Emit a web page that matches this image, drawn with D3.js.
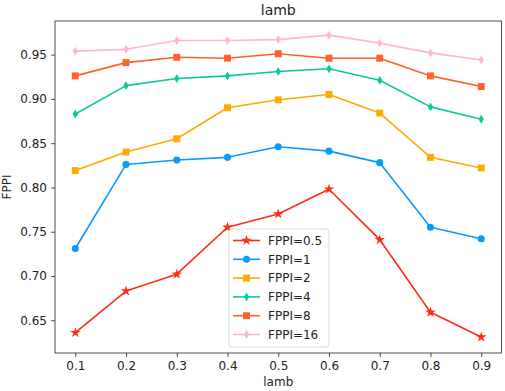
<!DOCTYPE html>
<html>
<head>
<meta charset="utf-8">
<script src="https://cdn.jsdelivr.net/npm/d3@7"></script>
<style>
  html, body { margin: 0; padding: 0; background: #fff; }
  svg { display: block; font-family: "DejaVu Sans", sans-serif; }
</style>
</head>
<body>
<div id="chart"></div>
<script>
// lamb values on the x axis
const lambs = [0.1, 0.2, 0.3, 0.4, 0.5, 0.6, 0.7, 0.8, 0.9]

// one list per FPPI setting
const fppi05 = [0.636, 0.683, 0.702, 0.755, 0.770, 0.798, 0.741, 0.659, 0.631]
const fppi1  = [0.731, 0.826, 0.831, 0.834, 0.846, 0.841, 0.828, 0.755, 0.742]
const fppi2  = [0.819, 0.840, 0.855, 0.890, 0.899, 0.905, 0.884, 0.834, 0.822]
const fppi4  = [0.883, 0.915, 0.923, 0.926, 0.931, 0.934, 0.921, 0.891, 0.877]
const fppi8  = [0.926, 0.941, 0.947, 0.946, 0.951, 0.946, 0.946, 0.926, 0.914]
const fppi16 = [0.954, 0.956, 0.966, 0.966, 0.967, 0.972, 0.963, 0.952, 0.944]

const seriesNames = ["FPPI=0.5", "FPPI=1", "FPPI=2", "FPPI=4", "FPPI=8", "FPPI=16"]
const xTicks = [0.1, 0.2, 0.3, 0.4, 0.5, 0.6, 0.7, 0.8, 0.9]
const yTicks = [0.65, 0.70, 0.75, 0.80, 0.85, 0.90, 0.95]

const series = [
  { name: seriesNames[0], values: fppi05, color: "#ff2d14", marker: "star" },
  { name: seriesNames[1], values: fppi1,  color: "#0a9bff", marker: "circle" },
  { name: seriesNames[2], values: fppi2,  color: "#ffaa00", marker: "square" },
  { name: seriesNames[3], values: fppi4,  color: "#0cc89e", marker: "thin_diamond" },
  { name: seriesNames[4], values: fppi8,  color: "#ff6128", marker: "square" },
  { name: seriesNames[5], values: fppi16, color: "#ffb8cc", marker: "thin_diamond" }
]

const W = 505, H = 391
const margin = { top: 21, right: 3.5, bottom: 38, left: 55 }

const svg = d3.select("#chart").append("svg")
  .attr("width", W).attr("height", H)

const x = d3.scaleLinear().domain([0.06, 0.94]).range([margin.left, W - margin.right])
const y = d3.scaleLinear().domain([0.613, 0.988]).range([H - margin.bottom, margin.top])

// Axes
const xAxis = svg.append("g")
  .attr("transform", `translate(0,${H - margin.bottom})`)
  .call(d3.axisBottom(x).tickValues(xTicks).tickFormat(d3.format(".1f")).tickSize(4).tickPadding(4))
const yAxis = svg.append("g")
  .attr("transform", `translate(${margin.left},0)`)
  .call(d3.axisLeft(y).tickValues(yTicks).tickFormat(d3.format(".2f")).tickSize(4).tickPadding(4))

for (const ax of [xAxis, yAxis]) {
  ax.select(".domain").remove()
  ax.selectAll("text").attr("font-size", "12px").attr("fill", "#222")
    .attr("font-family", "DejaVu Sans, sans-serif")
  ax.selectAll("line").attr("stroke", "#222").attr("stroke-width", 0.8)
}

// Frame
svg.append("rect")
  .attr("x", margin.left).attr("y", margin.top)
  .attr("width", W - margin.left - margin.right)
  .attr("height", H - margin.top - margin.bottom)
  .attr("fill", "none").attr("stroke", "#222").attr("stroke-width", 0.8)

// Titles
svg.append("text").attr("x", x(0.5)).attr("y", 15)
  .attr("text-anchor", "middle").attr("font-size", "14px").attr("fill", "#222").text("lamb")
svg.append("text").attr("x", x(0.5)).attr("y", 386)
  .attr("text-anchor", "middle").attr("font-size", "12px").attr("fill", "#222").text("lamb")
svg.append("text")
  .attr("transform", `translate(11,${(margin.top + H - margin.bottom) / 2}) rotate(-90)`)
  .attr("text-anchor", "middle").attr("font-size", "12px").attr("fill", "#222").text("FPPI")

function markerPath(kind) {
  switch (kind) {
    case "circle": return d3.symbol(d3.symbolCircle, 40)()
    case "square": return d3.symbol(d3.symbolSquare, 48)()
    case "star": return d3.symbol(d3.symbolStar, 34)()
    case "thin_diamond": return "M0,-4.4L2.7,0L0,4.4L-2.7,0Z"
  }
}

const line = d3.line().x((d, i) => x(lambs[i])).y(d => y(d))

const plot = svg.append("g")
series.forEach(s => {
  plot.append("path")
    .attr("d", line(s.values))
    .attr("fill", "none")
    .attr("stroke", s.color)
    .attr("stroke-width", 1.6)
    .attr("stroke-linejoin", "round")
  plot.selectAll(null)
    .data(s.values)
    .join("path")
    .attr("transform", (d, i) => `translate(${x(lambs[i])},${y(d)})`)
    .attr("d", markerPath(s.marker))
    .attr("fill", s.color)
})

// Legend
const lg = svg.append("g").attr("transform", "translate(229,229)")
lg.append("rect")
  .attr("width", 100).attr("height", 118).attr("rx", 3)
  .attr("fill", "#fff").attr("fill-opacity", 0.8)
  .attr("stroke", "#d0d0d0").attr("stroke-width", 0.8)
series.forEach((s, i) => {
  const row = lg.append("g").attr("transform", `translate(0,${11.5 + i * 18.8})`)
  row.append("line").attr("x1", 4).attr("x2", 31).attr("stroke", s.color).attr("stroke-width", 1.6)
  row.append("path").attr("transform", "translate(17.5,0)").attr("d", markerPath(s.marker)).attr("fill", s.color)
  row.append("text").attr("x", 39).attr("y", 4.3).attr("font-size", "12px").attr("fill", "#222").text(s.name)
})
</script>
</body>
</html>
